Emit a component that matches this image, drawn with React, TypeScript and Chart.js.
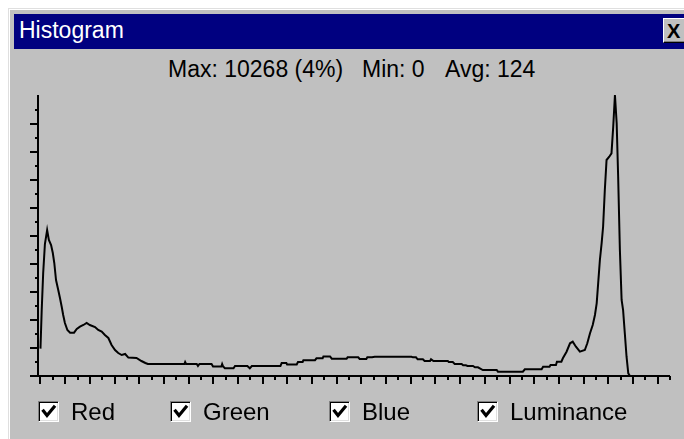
import React, { useEffect, useRef } from 'react';
import { Chart, registerables } from 'chart.js';

Chart.register(...registerables);

// ---------- data ----------
const windowTitle = 'Histogram';
const statsParts = ['Max: 10268 (4%)', 'Min: 0', 'Avg: 124'];
const channels = ['Red', 'Green', 'Blue', 'Luminance'];

const levels = [
  0, 0.5, 1.1, 1.8, 2.7, 3.4, 4.3, 5.0, 5.6, 6.3, 7.2, 7.9, 8.6, 9.2, 9.9, 10.9, 12.0, 13.6, 14.7, 16.0,
  17.4, 18.7, 20.0, 22.1, 23.4, 24.8, 26.1, 27.5, 28.8, 30.2, 31.5, 32.9, 34.3, 35.6, 38.9, 40.9, 42.5, 43.5,
  58.3, 58.6, 59, 63.3, 63.8, 64.4, 69.3, 69.9, 73.3, 73.6, 74, 74.7, 78.2, 78.8, 83.8, 84.8, 85.6, 97.2,
  97.7, 99.6, 99.9, 103.8, 104.3, 106.2, 106.5, 111.2, 111.8, 114.3, 114.6, 117.3, 118, 124, 124.4, 128.7,
  129.3, 132, 132.4, 134.3, 135.4, 150.3, 150.9, 152.1, 152.8, 154.9, 155.6, 157.8, 158.2, 159.2, 165,
  165.4, 167, 167.8, 170.6, 171.2, 172.3, 173, 175.2, 176, 177.2, 179.2, 184.8, 185.3, 195.4, 196.2, 203,
  203.6, 206.2, 206.6, 208.8, 209.2, 211, 211.6, 213.1, 214.5, 215.6, 216.9, 218.5, 220.5, 221.5, 222.6,
  223.7, 224.6, 225.3, 225.9, 226.6, 227.3, 227.9, 228.6, 229.3, 230.4, 231.3, 232, 232.7, 233.4, 234,
  234.7, 235.4, 236, 236.7, 237.4, 238.1, 238.8, 255,
];
const counts = [
  1000, 2400, 3764, 4823, 5335, 4969, 4787, 4494, 4129, 3508, 3142, 2850, 2533, 2229, 1937, 1681, 1584, 1584, 1717, 1803,
  1864, 1937, 1864, 1790, 1681, 1620, 1498, 1389, 1133, 950, 840, 767, 804, 672, 658, 548, 475, 438,
  438, 512, 438, 438, 365, 438, 438, 347, 347, 438, 347, 281, 281, 365, 365, 281, 365, 365,
  475, 475, 420, 420, 512, 512, 577, 577, 647, 647, 713, 713, 632, 632, 683, 683,
  621, 621, 683, 683, 705, 705, 683, 683, 610, 610, 548, 548, 610, 548, 548,
  512, 512, 438, 438, 391, 391, 365, 365, 318, 318, 219, 219, 157, 157, 245, 245,
  340, 340, 402, 402, 522, 522, 647, 888, 1195, 1253, 1071, 888, 950, 1195, 1560,
  1864, 2229, 2656, 3387, 4239, 4849, 5455, 6796, 7893, 8013, 8137, 9110, 10268, 9234, 7283,
  4604, 2777, 2412, 1560, 705, 99, 0, 0,
];
const maxCount = 10268;
const levelMin = -1;
const levelMax = 255;
const levelTickStep = 5;
const countTickStep = 512;
const countTickCount = 20;

const xTickValues: number[] = [];
for (let v = 0; v <= levelMax; v += levelTickStep) xTickValues.push(v);
const yTickValues: number[] = [];
for (let i = 0; i < countTickCount; i++) yTickValues.push(i * countTickStep);

// ---------- styles ----------
const FONT = '"Liberation Sans", Arial, sans-serif';
const GRAY = '#c0c0c0';

const axesPlugin = {
  id: 'winAxes',
  afterDatasetsDraw(chart: any) {
    const { ctx, scales } = chart;
    const x = scales.x;
    const y = scales.y;
    ctx.save();
    ctx.strokeStyle = '#000';
    ctx.lineWidth = 2;
    const x0 = Math.round(x.left);
    const yb = Math.round(y.bottom);
    ctx.beginPath();
    ctx.moveTo(x0, y.top);
    ctx.lineTo(x0, yb + 1);
    ctx.stroke();
    ctx.beginPath();
    ctx.moveTo(x0 - 8, yb);
    ctx.lineTo(x.right, yb);
    ctx.stroke();
    yTickValues.forEach((v, i) => {
      const py = Math.round(y.getPixelForValue(v));
      const len = i % 2 === 0 ? 8 : 3;
      ctx.beginPath();
      ctx.moveTo(x0 - len, py);
      ctx.lineTo(x0, py);
      ctx.stroke();
    });
    xTickValues.forEach((v, i) => {
      const px = Math.round(x.getPixelForValue(v));
      const len = i % 2 === 0 ? 8 : 4;
      ctx.beginPath();
      ctx.moveTo(px, yb);
      ctx.lineTo(px, yb + len);
      ctx.stroke();
    });
    ctx.restore();
  },
};

function HistogramChart() {
  const ref = useRef<HTMLCanvasElement | null>(null);
  useEffect(() => {
    if (!ref.current) return;
    const chart = new Chart(ref.current, {
      type: 'line',
      data: {
        datasets: [
          {
            data: levels.map((l, i) => ({ x: l, y: counts[i] })),
            borderColor: '#000',
            borderWidth: 2,
            pointRadius: 0,
            tension: 0,
            fill: false,
            clip: false as any,
          },
        ],
      },
      options: {
        animation: false,
        responsive: false,
        devicePixelRatio: 1,
        layout: { padding: { left: 38, right: 14, top: 10, bottom: 24 } },
        plugins: { legend: { display: false }, tooltip: { enabled: false } },
        scales: {
          x: { type: 'linear', min: levelMin, max: levelMax, display: false },
          y: { type: 'linear', min: 0, max: maxCount, display: false },
        },
      },
      plugins: [axesPlugin],
    });
    return () => chart.destroy();
  }, []);
  return <canvas ref={ref} width={684} height={315} style={{ display: 'block', width: 684, height: 315 }} />;
}

function CheckBox() {
  return (
    <div
      style={{
        position: 'absolute',
        width: 19,
        height: 19,
        background: '#fff',
        borderTop: '1px solid #808080',
        borderLeft: '1px solid #808080',
        borderBottom: '1px solid #fff',
        borderRight: '1px solid #fff',
        boxShadow: 'inset 1px 1px 0 #000, inset -1px -1px 0 #dfdfdf',
        top: 0,
        left: 0,
      }}
    >
      <svg width={19} height={19} style={{ position: 'absolute', left: 0, top: 0 }}>
        <polyline points="4.5,9 8,13.5 15,5" fill="none" stroke="#000" strokeWidth={3.2} strokeLinecap="square" />
      </svg>
    </div>
  );
}

const statsLeft = [168, 362, 445];
const channelLeft = [38, 170, 329, 477];

export default function App() {
  return (
    <div
      style={{
        position: 'fixed',
        left: 0,
        top: 0,
        width: 684,
        height: 439,
        overflow: 'hidden',
        background: '#fff',
        fontFamily: FONT,
      }}
    >
      {/* window frame */}
      <div
        style={{
          position: 'absolute',
          left: 8,
          top: 8,
          width: 720,
          height: 460,
          background: GRAY,
          borderTop: '1px solid #dfdfdf',
          borderLeft: '1px solid #dfdfdf',
          boxShadow: 'inset 1px 1px 0 #fff',
        }}
      />
      {/* title bar */}
      <div
        style={{
          position: 'absolute',
          left: 14,
          top: 14,
          width: 700,
          height: 35,
          background: '#000080',
        }}
      />
      <div
        style={{
          position: 'absolute',
          left: 19,
          top: 19,
          color: '#fff',
          fontSize: 23,
          lineHeight: '23px',
          whiteSpace: 'nowrap',
        }}
      >
        {windowTitle}
      </div>
      {/* close button */}
      <div
        style={{
          position: 'absolute',
          left: 663,
          top: 18,
          width: 30,
          height: 25,
          background: GRAY,
          borderTop: '1px solid #fff',
          borderLeft: '1px solid #fff',
          borderBottom: '1px solid #000',
          boxShadow: 'inset -1px -1px 0 #808080',
          boxSizing: 'border-box',
        }}
      >
        <div
          style={{
            position: 'absolute',
            left: 3,
            top: 2,
            fontSize: 20,
            lineHeight: '20px',
            fontWeight: 'bold',
            color: '#000',
          }}
        >
          X
        </div>
      </div>
      {/* stats */}
      {statsParts.map((s, i) => (
        <div
          key={s}
          style={{
            position: 'absolute',
            left: statsLeft[i],
            top: 58,
            fontSize: 23,
            lineHeight: '23px',
            color: '#000',
            whiteSpace: 'nowrap',
          }}
        >
          {s}
        </div>
      ))}
      {/* chart */}
      <div style={{ position: 'absolute', left: 0, top: 85, width: 684, height: 315 }}>
        <HistogramChart />
      </div>
      {/* channel checkboxes */}
      {channels.map((c, i) => (
        <div key={c} style={{ position: 'absolute', left: channelLeft[i], top: 401, height: 21, width: 200 }}>
          <CheckBox />
          <div
            style={{
              position: 'absolute',
              left: 33,
              top: -1,
              fontSize: 24,
              lineHeight: '24px',
              color: '#000',
              whiteSpace: 'nowrap',
            }}
          >
            {c}
          </div>
        </div>
      ))}
    </div>
  );
}
